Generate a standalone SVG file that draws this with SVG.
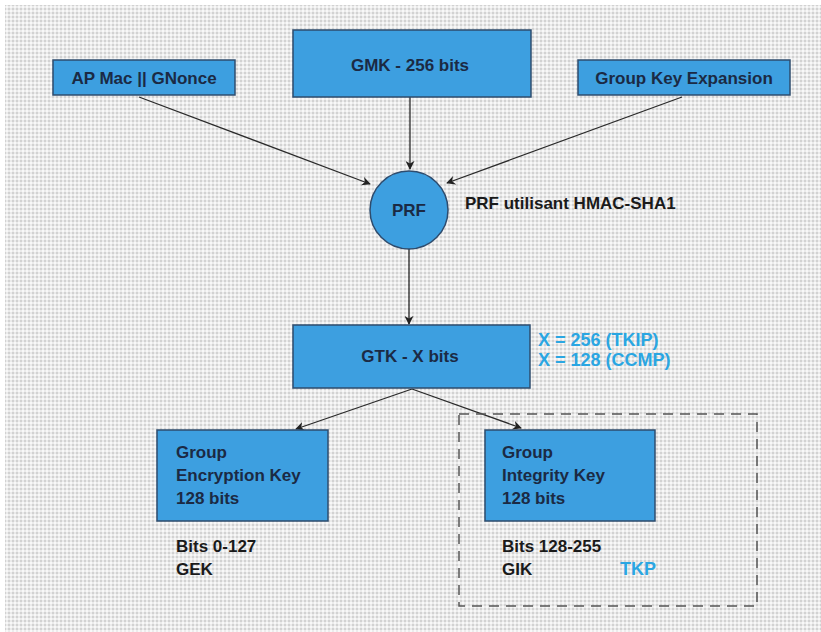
<svg xmlns="http://www.w3.org/2000/svg" width="821" height="632" viewBox="0 0 821 632">
  <defs>
    <pattern id="bg" width="4" height="4" patternUnits="userSpaceOnUse">
      <rect width="4" height="4" fill="#ebebeb"/>
      <rect x="0" y="0" width="2" height="2" fill="#d2d2d2"/>
      <rect x="2" y="2" width="2" height="2" fill="#f8f8f8"/>
    </pattern>
    <marker id="arr" viewBox="0 0 10 10" refX="9" refY="5" markerWidth="9" markerHeight="9" markerUnits="userSpaceOnUse" orient="auto">
      <path d="M0,0 L10,5 L0,10 L3,5 z" fill="#222"/>
    </marker>
    <style>
      .box { fill: #3d9fe0; stroke: #2e4c6e; stroke-width: 1.5; }
      .t { font-family: "Liberation Sans", Arial, sans-serif; font-size: 17px; font-weight: bold; fill: #1b2a44; }
      .o { font-family: "Liberation Sans", Arial, sans-serif; font-size: 17px; font-weight: bold; fill: #1a1a1a; }
      .b { font-family: "Liberation Sans", Arial, sans-serif; font-size: 18px; font-weight: bold; fill: #2aa6e2; }
      .c { stroke: #2a2a2a; stroke-width: 1.3; fill: none; marker-end: url(#arr); }
    </style>
  </defs>
  <rect x="0" y="0" width="821" height="632" fill="#ffffff"/>
  <rect x="5" y="5" width="816" height="627" fill="url(#bg)"/>

  <g id="connectors">
    <line class="c" x1="139" y1="97" x2="370" y2="184"/>
    <line class="c" x1="410" y1="97" x2="410" y2="169"/>
    <line class="c" x1="682" y1="97" x2="447" y2="183"/>
    <line class="c" x1="409" y1="249" x2="409" y2="324"/>
    <line class="c" x1="412" y1="389" x2="296" y2="429"/>
    <line class="c" x1="412" y1="389" x2="521" y2="428"/>
  </g>

  <g id="ap-mac">
    <rect class="box" x="53" y="60" width="182" height="35"/>
    <text class="t" x="144" y="84" text-anchor="middle">AP Mac || GNonce</text>
  </g>
  <g id="gmk">
    <rect class="box" x="293" y="30" width="238" height="67"/>
    <text class="t" x="410" y="71" text-anchor="middle">GMK - 256 bits</text>
  </g>
  <g id="gke">
    <rect class="box" x="578" y="60" width="212" height="35"/>
    <text class="t" x="684" y="84" text-anchor="middle">Group Key Expansion</text>
  </g>
  <g id="prf">
    <circle class="box" cx="409" cy="210" r="39"/>
    <text class="t" x="409" y="216" text-anchor="middle">PRF</text>
    <text class="o" x="465" y="209">PRF utilisant HMAC-SHA1</text>
  </g>
  <g id="gtk">
    <rect class="box" x="293" y="325" width="237" height="63"/>
    <text class="t" x="410" y="362" text-anchor="middle">GTK - X bits</text>
    <text class="b" x="538" y="346">X = 256 (TKIP)</text>
    <text class="b" x="538" y="366">X = 128 (CCMP)</text>
  </g>
  <g id="gek">
    <rect class="box" x="157" y="430" width="171" height="91"/>
    <text class="t" x="176" y="458">Group</text>
    <text class="t" x="176" y="481">Encryption Key</text>
    <text class="t" x="176" y="504">128 bits</text>
    <text class="o" x="176" y="552">Bits 0-127</text>
    <text class="o" x="176" y="575">GEK</text>
  </g>
  <g id="tkp-group">
    <rect x="459" y="414" width="298" height="192" fill="none" stroke="#555" stroke-width="1.5" stroke-dasharray="10,7"/>
    <text class="b" x="620" y="575">TKP</text>
  </g>
  <g id="gik">
    <rect class="box" x="485" y="430" width="170" height="91"/>
    <text class="t" x="502" y="458">Group</text>
    <text class="t" x="502" y="481">Integrity Key</text>
    <text class="t" x="502" y="504">128 bits</text>
    <text class="o" x="502" y="552">Bits 128-255</text>
    <text class="o" x="502" y="575">GIK</text>
  </g>
</svg>
